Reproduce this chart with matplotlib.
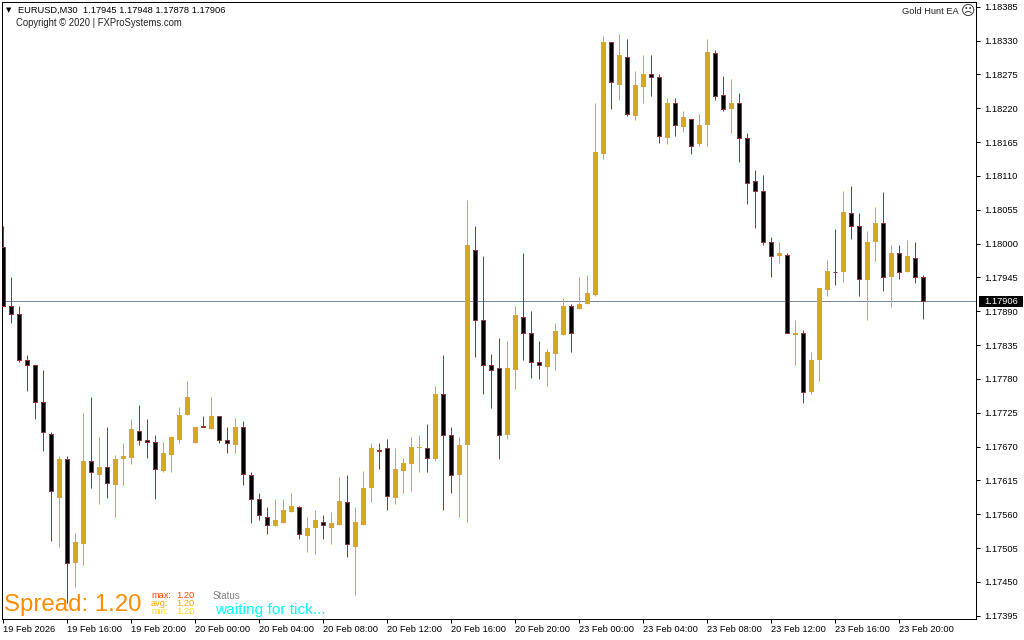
import numpy as np
import matplotlib
matplotlib.use('Agg')
import matplotlib.pyplot as plt
from matplotlib.patches import Rectangle

# prices in 1e-5 units (one entry per 30 minute candle)
opens = np.array([
    117995, 117898, 117886, 117810, 117802, 117742, 117691, 117587, 117650, 117480,
    117512, 117646, 117624, 117636, 117607, 117650, 117652, 117696, 117680, 117678,
    117631, 117657, 117681, 117722, 117676, 117704, 117699, 117720, 117681, 117673,
    117701, 117624, 117584, 117556, 117540, 117546, 117563, 117572, 117525, 117537,
    117548, 117538, 117543, 117579, 117507, 117543, 117602, 117665, 117667, 117587,
    117631, 117641, 117667, 117668, 117649, 117755, 117689, 117623, 117672, 117990,
    117876, 117803, 117797, 117688, 117795, 117881, 117855, 117807, 117800, 117820,
    117852, 117898, 117893, 117901, 117917, 118145, 118328, 118258, 118304, 118208,
    118255, 118276, 118271, 118172, 118229, 118190, 118203, 118161, 118192, 118309,
    118241, 118218, 118228, 118172, 118101, 118086, 118003, 117979, 117982, 117852,
    117854, 117758, 117810, 117924, 117954, 117953, 118050, 118028, 117940, 118002,
    118033, 117945, 117984, 117953, 117977, 117945]) / 1e5
highs = np.array([
    118028, 117945, 117899, 117818, 117802, 117794, 117693, 117654, 117655, 117530,
    117724, 117750, 117686, 117702, 117657, 117676, 117714, 117738, 117714, 117689,
    117678, 117685, 117735, 117777, 117702, 117719, 117750, 117720, 117702, 117716,
    117712, 117629, 117594, 117571, 117585, 117584, 117594, 117574, 117555, 117566,
    117558, 117563, 117620, 117623, 117572, 117631, 117675, 117676, 117683, 117668,
    117652, 117686, 117688, 117706, 117769, 117818, 117701, 117685, 118070, 118029,
    117979, 117820, 117846, 117841, 117899, 117984, 117891, 117842, 117829, 117870,
    117911, 117902, 117945, 117948, 118229, 118337, 118328, 118340, 118332, 118280,
    118307, 118306, 118275, 118236, 118236, 118215, 118203, 118211, 118333, 118314,
    118273, 118268, 118245, 118179, 118120, 118112, 118010, 118002, 117985, 117875,
    117859, 117823, 117927, 117974, 118023, 118086, 118094, 118050, 118021, 118059,
    118083, 117998, 117997, 118005, 118002, 117948]) / 1e5
lows = np.array([
    117898, 117870, 117807, 117761, 117714, 117663, 117516, 117506, 117416, 117441,
    117477, 117602, 117576, 117587, 117555, 117607, 117641, 117672, 117652, 117585,
    117628, 117629, 117675, 117722, 117675, 117701, 117699, 117675, 117660, 117660,
    117607, 117545, 117550, 117527, 117540, 117545, 117563, 117519, 117498, 117496,
    117520, 117511, 117542, 117490, 117428, 117543, 117579, 117634, 117566, 117577,
    117595, 117597, 117628, 117629, 117646, 117566, 117594, 117555, 117548, 117816,
    117756, 117733, 117649, 117683, 117764, 117811, 117781, 117779, 117769, 117795,
    117852, 117823, 117893, 117901, 117914, 118138, 118218, 118234, 118208, 118200,
    118228, 118239, 118164, 118161, 118174, 118182, 118146, 118158, 118159, 118234,
    118215, 118180, 118133, 118065, 118026, 117997, 117946, 117969, 117854, 117802,
    117740, 117755, 117776, 117914, 117933, 117938, 118008, 117915, 117876, 117971,
    117922, 117896, 117943, 117953, 117935, 117878]) / 1e5
closes = np.array([
    117898, 117886, 117811, 117803, 117742, 117693, 117598, 117650, 117481, 117514,
    117647, 117628, 117636, 117610, 117650, 117655, 117698, 117680, 117678, 117634,
    117659, 117685, 117722, 117750, 117702, 117701, 117720, 117681, 117676, 117702,
    117626, 117584, 117559, 117542, 117550, 117566, 117574, 117527, 117538, 117550,
    117542, 117546, 117581, 117511, 117548, 117603, 117667, 117662, 117589, 117634,
    117644, 117670, 117670, 117652, 117756, 117689, 117624, 117672, 117997, 117876,
    117803, 117795, 117689, 117798, 117883, 117854, 117808, 117803, 117823, 117857,
    117898, 117854, 117902, 117919, 118148, 118328, 118262, 118306, 118210, 118258,
    118276, 118270, 118174, 118228, 118192, 118205, 118158, 118193, 118311, 118239,
    118218, 118229, 118172, 118099, 118086, 118003, 117980, 117984, 117854, 117855,
    117759, 117811, 117927, 117956, 117953, 118052, 118028, 117943, 118003, 118034,
    117945, 117984, 117953, 117979, 117946, 117906]) / 1e5

y_ticks = [1.18385, 1.18330, 1.18275, 1.18220, 1.18165, 1.18110, 1.18055, 1.18000, 1.17945,
           1.17890, 1.17835, 1.17780, 1.17725, 1.17670, 1.17615, 1.17560, 1.17505, 1.17450,
           1.17395]
x_tick_labels = ['19 Feb 2026', '19 Feb 16:00', '19 Feb 20:00', '20 Feb 00:00', '20 Feb 04:00',
                 '20 Feb 08:00', '20 Feb 12:00', '20 Feb 16:00', '20 Feb 20:00', '23 Feb 00:00',
                 '23 Feb 04:00', '23 Feb 08:00', '23 Feb 12:00', '23 Feb 16:00', '23 Feb 20:00']
last_price = 1.17906

GOLD = '#DAA520'
BROWN = '#A52A2A'
LINE = 0.72  # one pixel at 100 dpi
TEXT = 6.7
W, H = 1024, 640

plt.rcParams['font.family'] = ['Liberation Sans', 'DejaVu Sans']

fig = plt.figure(figsize=(W / 100, H / 100), dpi=100, facecolor='white')
ax = fig.add_axes([2 / W, 1 - 619 / H, 974 / W, 617 / H])
ax.set_xlim(-0.125, 121.625)
ax.set_ylim(1.173896, 1.183926)

# Current price line sits behind the candles
ax.axhline(last_price, color='#778899', lw=LINE, zorder=1)

x = np.arange(len(opens))
up = closes >= opens
down = ~up

# Wicks
ax.vlines(x[up], lows[up], highs[up], color=GOLD, lw=LINE, zorder=2)
ax.vlines(x[down], lows[down], highs[down], color=BROWN, lw=LINE, zorder=2)

# Bodies
ax.bar(x[up], closes[up] - opens[up], bottom=opens[up], width=0.625,
       color=GOLD, linewidth=0, zorder=3)
ax.bar(x[down], closes[down] - opens[down], bottom=opens[down], width=0.5,
       facecolor='black', edgecolor=BROWN, linewidth=LINE, zorder=3)

# Axes
for side in ['top', 'bottom', 'left', 'right']:
    ax.spines[side].set_linewidth(LINE)
ax.yaxis.tick_right()
ax.set_yticks(y_ticks, [f'{v:.5f}' for v in y_ticks])
ax.set_xticks(np.arange(len(x_tick_labels)) * 8, x_tick_labels, ha='left')
ax.tick_params(axis='y', length=3, width=LINE, pad=3, labelsize=TEXT)
ax.tick_params(axis='x', length=3, width=LINE, pad=1, labelsize=TEXT)

# Price tag on the right axis
trans = ax.get_yaxis_transform()
ax.add_patch(Rectangle((1.003, last_price - 0.00009), 0.045, 0.00018, transform=trans,
                       facecolor='black', edgecolor='none', clip_on=False, zorder=5))
ax.text(1.0083, last_price, f'{last_price:.5f}', transform=trans, color='white',
        fontsize=TEXT, va='center', ha='left', clip_on=False, zorder=6)


def label(px, py, text, color='black', size=TEXT, ha='left', family=None):
    # place text by pixel position on the figure
    return fig.text(px / W, 1 - py / H, text, color=color, fontsize=size, ha=ha, va='center',
                    family=family, zorder=10)


label(6, 10, '▼', size=5, family='DejaVu Sans')
label(18, 10, f'EURUSD,M30  {opens[-1]:.5f} {highs[-1]:.5f} {lows[-1]:.5f} {closes[-1]:.5f}')
label(16, 23, 'Copyright © 2020 | FXProSystems.com', color='#222222', size=6.85)
label(959, 11, 'Gold Hunt EA', ha='right', color='#222222')
label(968, 11, '☹', size=10, ha='center', family='DejaVu Sans', color='#333333')

label(4, 605, 'Spread: 1.20', color='#FF8C00', size=17.3)
label(151, 596, 'max:', color='#FF4500')
label(176, 596, '1.20', color='#FF4500')
label(151, 604, 'avg:', color='#FFA500')
label(176, 604, '1.20', color='#FFA500')
label(151, 612, 'min:', color='#FFD700')
label(176, 612, '1.20', color='#FFD700')
label(213, 596, 'Status', color='#808080', size=7)
label(215, 610, 'waiting for tick...', color='#00FFFF', size=11.1)

fig.savefig('out.png', dpi=100)
